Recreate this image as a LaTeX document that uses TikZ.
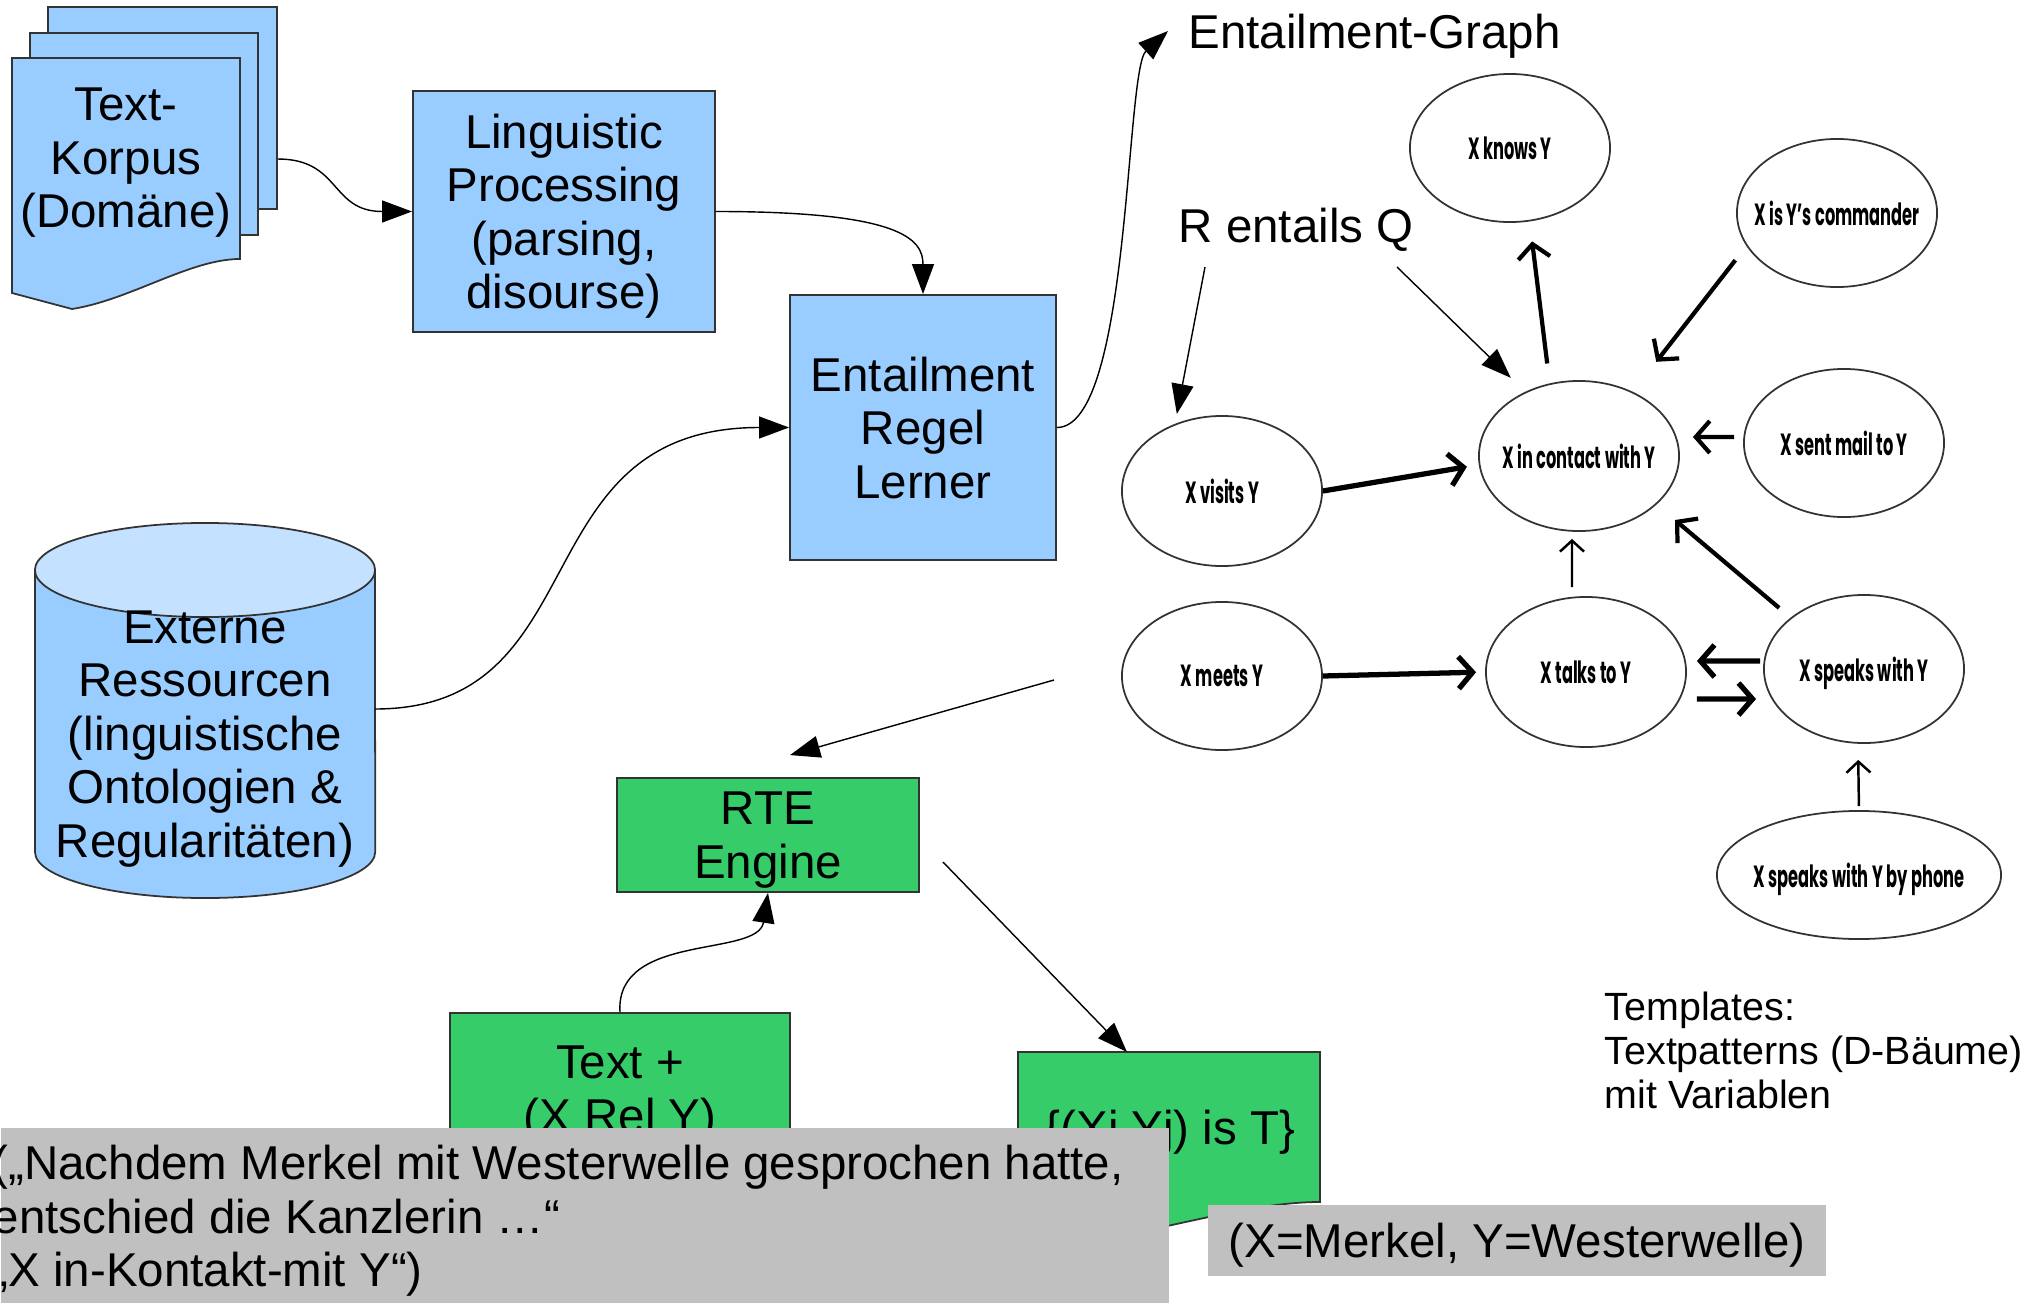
\documentclass[tikz,border=0pt]{standalone}
\usepackage{fontspec}
\setmainfont{Liberation Sans}
\newfontfamily\ellfont[FakeStretch=0.53]{Poppins}
\usetikzlibrary{arrows.meta,shapes.geometric,positioning}
\definecolor{docblue}{HTML}{99CCFF}
\definecolor{topblue}{HTML}{C4E1FF}
\definecolor{rtegreen}{HTML}{35CC69}
\definecolor{notegray}{HTML}{C0C0C0}
\newcommand{\reltxt}[1]{\makebox[0pt]{#1}}

\begin{document}
\begin{tikzpicture}
	[x=0.01cm,y=-0.01cm,
	every node/.style={font=\fontsize{13.5}{15.2}\selectfont,align=center,inner sep=0pt,text depth=0pt},
	bluebox/.style={draw=black!80,fill=docblue,line width=0.5pt},
	greenbox/.style={draw=black!80,fill=rtegreen,line width=0.5pt},
	graybox/.style={fill=notegray},
	rel/.style={ellipse,draw=black!80,line width=0.5pt,minimum width=2cm,minimum height=1.48cm,font=\ellfont\bfseries\fontsize{8.7}{10}\selectfont},
	flow/.style={-{Triangle[length=3mm,width=2.2mm]},line width=0.4pt},
	thickarr/.style={-{Straight Barb[length=1.4mm,width=3.2mm]},line width=1.2pt},
	thinarr/.style={-{Straight Barb[length=1.1mm,width=2.4mm]},line width=0.7pt}]
	\useasboundingbox (0,0) rectangle (2041,1303);

	\node[bluebox,minimum width=2.29cm,minimum height=2.02cm] (sheetB) at (162.5,108) {};
	\node[bluebox,minimum width=2.28cm,minimum height=2.02cm] (sheetM) at (144,134) {};
	\filldraw[bluebox] (12,58) -- (240,58) -- (240,259) .. controls (190,259) and (130,300) .. (72,309) -- (12,293) -- cycle;
	\node (korpus) at (126,158) {Text-\\Korpus\\(Domäne)};

	\node[bluebox,minimum width=3.02cm,minimum height=2.41cm] (ling) at (564,211.5) {Linguistic\\Processing\\(parsing,\\disourse)};
	\node[bluebox,minimum width=2.66cm,minimum height=2.65cm] (lerner) at (923,427.5) {Entailment\\Regel\\Lerner};

	\fill[docblue] (35,570) -- (35,852) arc[start angle=180,end angle=360,x radius=1.7cm,y radius=0.46cm] -- (375,570) -- cycle;
	\draw[black!80,line width=0.5pt] (35,570) -- (35,852) arc[start angle=180,end angle=360,x radius=1.7cm,y radius=0.46cm] -- (375,570);
	\filldraw[fill=topblue,draw=black!80,line width=0.5pt] (205,570) ellipse[x radius=1.7cm,y radius=0.47cm];
	\node (ext) at (205,734) {Externe\\Ressourcen\\(linguistische\\Ontologien \&\\Regularitäten)};
	\coordinate (extout) at (375,709);

	\node[greenbox,minimum width=3.02cm,minimum height=1.14cm] (rte) at (768,835) {RTE\\Engine};
	\node[greenbox,minimum width=3.4cm,minimum height=1.52cm] (textrel) at (620,1089) {Text +\\(X Rel Y)};
	\filldraw[greenbox] (1018,1052) -- (1320,1052) -- (1320,1202) .. controls (1254,1202) and (1175,1227) .. (1097,1240) -- (1018,1228) -- cycle;
	\node (result) at (1170,1127) {\{(Xi,Yj) is T\}};
	\coordinate (restop) at (1127,1052);

	\node[anchor=west] (graph) at (1188,31) {Entailment-Graph};
	\node[anchor=west] (rq) at (1178,225) {R entails Q};
	\coordinate (rqa) at (1205,267);
	\coordinate (rqb) at (1397,267);
	\node[anchor=west,align=left,font=\fontsize{11.2}{12.5}\selectfont] (templ) at (1604,1050) {Templates:\\Textpatterns (D-Bäume)\\mit Variablen};

	\node[rel] (knows) at (1510,148) {\reltxt{X knows Y}};
	\node[rel] (commander) at (1837,213) {\reltxt{X is Y’s commander}};
	\node[rel,minimum height=1.5cm] (visits) at (1222,491) {\reltxt{X visits Y}};
	\node[rel,minimum height=1.5cm] (contact) at (1579,456) {\reltxt{X in contact with Y}};
	\node[rel] (mail) at (1844,443) {\reltxt{X sent mail to Y}};
	\node[rel] (meets) at (1222,676) {\reltxt{X meets Y}};
	\node[rel,minimum height=1.5cm] (talks) at (1586,672) {\reltxt{X talks to Y}};
	\node[rel] (speaks) at (1864,669) {\reltxt{X speaks with Y}};
	\node[rel,minimum width=2.84cm,minimum height=1.28cm] (phone) at (1859,875) {\reltxt{X speaks with Y by phone}};

	\draw[flow] ([yshift=-0.51cm]sheetB.east) .. controls +(63,0) and +(-82,0) .. (ling.west);
	\draw[flow] (ling.east) .. controls +(185,0) and +(0,-55) .. (lerner.north);
	\draw[flow] (extout) .. controls +(225,0) and +(-270,0) .. (lerner.west);
	\draw[flow] (lerner.east) .. controls +(74,0) and (1125,70) .. ([xshift=-2mm]graph.west);
	\draw[flow,shorten >=1mm] (rqa) -- (visits.125);
	\draw[flow,shorten >=2mm] (rqb) -- (contact.130);

	\draw[thickarr,shorten <=2mm,shorten >=2mm] (contact.112) -- (knows.285);
	\draw[thickarr,shorten <=1.8mm,shorten >=3.8mm] (commander.200) -- (contact.50);
	\draw[thickarr,line width=1.5pt,shorten >=1.2mm] (visits.east) -- (contact.185);
	\draw[thickarr,shorten <=0.9mm,shorten >=1.3mm] ([yshift=0.06cm]mail.west) -- ([yshift=0.19cm]contact.east);
	\draw[thinarr,shorten <=0.9mm,shorten >=0.7mm] ([xshift=-1.4mm]talks.north) -- ([xshift=-0.7mm]contact.south);
	\draw[thickarr,shorten <=1.5mm,shorten >=2.4mm] (speaks.145) -- (contact.328);
	\draw[thickarr,line width=1.5pt,shorten >=0.9mm] (meets.east) -- (talks.west);
	\draw[thickarr,line width=1.5pt,shorten <=0.3mm,shorten >=1mm] ([yshift=0.08cm]speaks.west) -- ([yshift=0.11cm]talks.east);
	\draw[thickarr,line width=1.5pt,shorten <=1mm,shorten >=0.7mm] ([yshift=-0.27cm]talks.east) -- ([yshift=-0.3cm]speaks.west);
	\draw[thinarr,shorten <=0.4mm,shorten >=1.6mm] (phone.north) -- ([xshift=-0.6mm]speaks.south);

	\coordinate (gout) at (1054,680);
	\draw[flow] (gout) -- ([xshift=2.2mm,yshift=2.2mm]rte.north);
	\draw[flow] ([xshift=2.3mm,yshift=-2.7mm]rte.east) -- (restop);
	\draw[flow] (textrel.north) .. controls +(-5,-80) and +(-10,65) .. (rte.south);

	\node[graybox,anchor=north west,minimum width=11.68cm,minimum height=1.76cm] (satz) at (0,1127) {};
	\node[anchor=west,align=left] (satztxt) at (-8,1216) {(„Nachdem Merkel mit Westerwelle gesprochen hatte,\\entschied die Kanzlerin …“\\„X in-Kontakt-mit Y“)};
	\node[graybox,minimum width=6.18cm,minimum height=0.71cm] (belegung) at (1517,1240.5) {(X=Merkel, Y=Westerwelle)};
\end{tikzpicture}
\end{document}
